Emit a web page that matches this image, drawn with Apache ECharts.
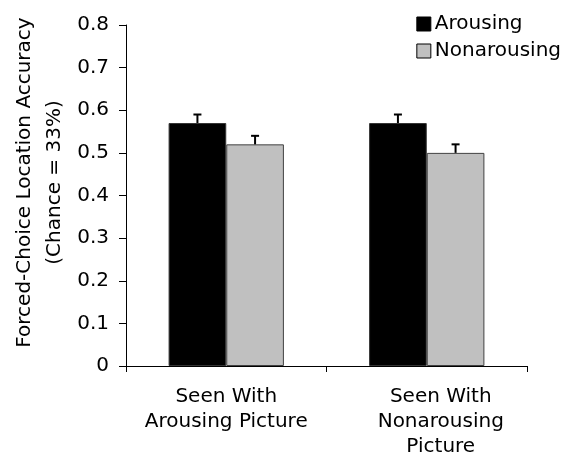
<!DOCTYPE html>
<html>
<head>
<meta charset="utf-8">
<script src="https://cdn.jsdelivr.net/npm/echarts@6/dist/echarts.min.js"></script>
<style>html,body{margin:0;padding:0;background:#fff}#c{width:578px;height:457px}</style>
</head>
<body>
<div id="c"></div>
<script>
var categories = ['Seen With\nArousing Picture', 'Seen With\nNonarousing\nPicture'];
var arousing = [0.57, 0.57];
var nonarousing = [0.52, 0.50];
var arousingErr = [0.02, 0.02];
var nonarousingErr = [0.02, 0.02];
var yTicks = [0, 0.1, 0.2, 0.3, 0.4, 0.5, 0.6, 0.7, 0.8];

var FONT = 'DejaVu Sans';
var GAP = 0.425;
var labelShift = [0, 28];
var chart = echarts.init(document.getElementById('c'));

function errSeries(vals, errs, side) {
  return {
    type: 'custom',
    z: 5,
    silent: true,
    data: vals.map(function (v, i) { return [i, v, v + errs[i]]; }),
    renderItem: function (params, api) {
      var band = api.size([1, 0])[0];
      var bw = band * (1 - GAP) / 2;
      var p0 = api.coord([api.value(0), api.value(1)]);
      var p1 = api.coord([api.value(0), api.value(2)]);
      var x = p0[0] + side * bw / 2;
      var st = { stroke: '#000', lineWidth: 2 };
      return {
        type: 'group',
        children: [
          { type: 'line', shape: { x1: x, y1: p0[1], x2: x, y2: p1[1] }, style: st },
          { type: 'line', shape: { x1: x - 4, y1: p1[1], x2: x + 4, y2: p1[1] }, style: st }
        ]
      };
    }
  };
}

chart.setOption({
  animation: false,
  textStyle: { fontFamily: FONT },
  grid: { left: 126, right: 51, top: 25, bottom: 91, containLabel: false, outerBoundsMode: 'none' },
  legend: {
    orient: 'vertical',
    right: 12,
    top: 9,
    itemWidth: 14,
    itemHeight: 14,
    itemGap: 7,
    textStyle: { fontFamily: FONT, fontSize: 20, color: '#000', padding: [0, 0, 0, -1] },
    data: [
      { name: 'Arousing', icon: 'rect', itemStyle: { color: '#000', borderColor: '#000', borderWidth: 1 } },
      { name: 'Nonarousing', icon: 'rect', itemStyle: { color: '#c0c0c0', borderColor: '#000', borderWidth: 1 } }
    ]
  },
  xAxis: {
    type: 'category',
    data: categories.map(function (c, i) {
      return { value: c, textStyle: { padding: [0, 0, 0, labelShift[i]] } };
    }),
    axisLine: { lineStyle: { color: '#000', width: 1 } },
    axisTick: { show: true, interval: 0, length: 6, lineStyle: { color: '#000' } },
    axisLabel: { color: '#000', fontSize: 20, fontFamily: FONT, lineHeight: 25, margin: 18, interval: 0 }
  },
  yAxis: {
    type: 'value',
    min: 0,
    max: 0.8,
    interval: 0.1,
    name: 'Forced-Choice Location Accuracy\n(Chance = 33%)',
    nameLocation: 'middle',
    nameGap: 56,
    nameMoveOverlap: false,
    nameTextStyle: { color: '#000', fontSize: 20, fontFamily: FONT, lineHeight: 30, padding: [0, 0, 0, 26] },
    axisLine: { show: true, lineStyle: { color: '#000', width: 1 } },
    axisTick: { show: true, length: 7, lineStyle: { color: '#000' } },
    splitLine: { show: false },
    axisLabel: {
      color: '#000', fontSize: 20, fontFamily: FONT, margin: 17,
      formatter: function (v) {
        var t = yTicks.filter(function (k) { return Math.abs(k - v) < 1e-9; });
        return t.length ? String(t[0]) : '';
      }
    }
  },
  series: [
    {
      name: 'Arousing', type: 'bar', data: arousing,
      barGap: '0%', barCategoryGap: (GAP * 100) + '%',
      itemStyle: { color: '#000', borderColor: '#333', borderWidth: 1 }
    },
    {
      name: 'Nonarousing', type: 'bar', data: nonarousing,
      itemStyle: { color: '#c0c0c0', borderColor: '#404040', borderWidth: 1 }
    },
    errSeries(arousing, arousingErr, -1),
    errSeries(nonarousing, nonarousingErr, 1)
  ]
});
</script>
</body>
</html>
